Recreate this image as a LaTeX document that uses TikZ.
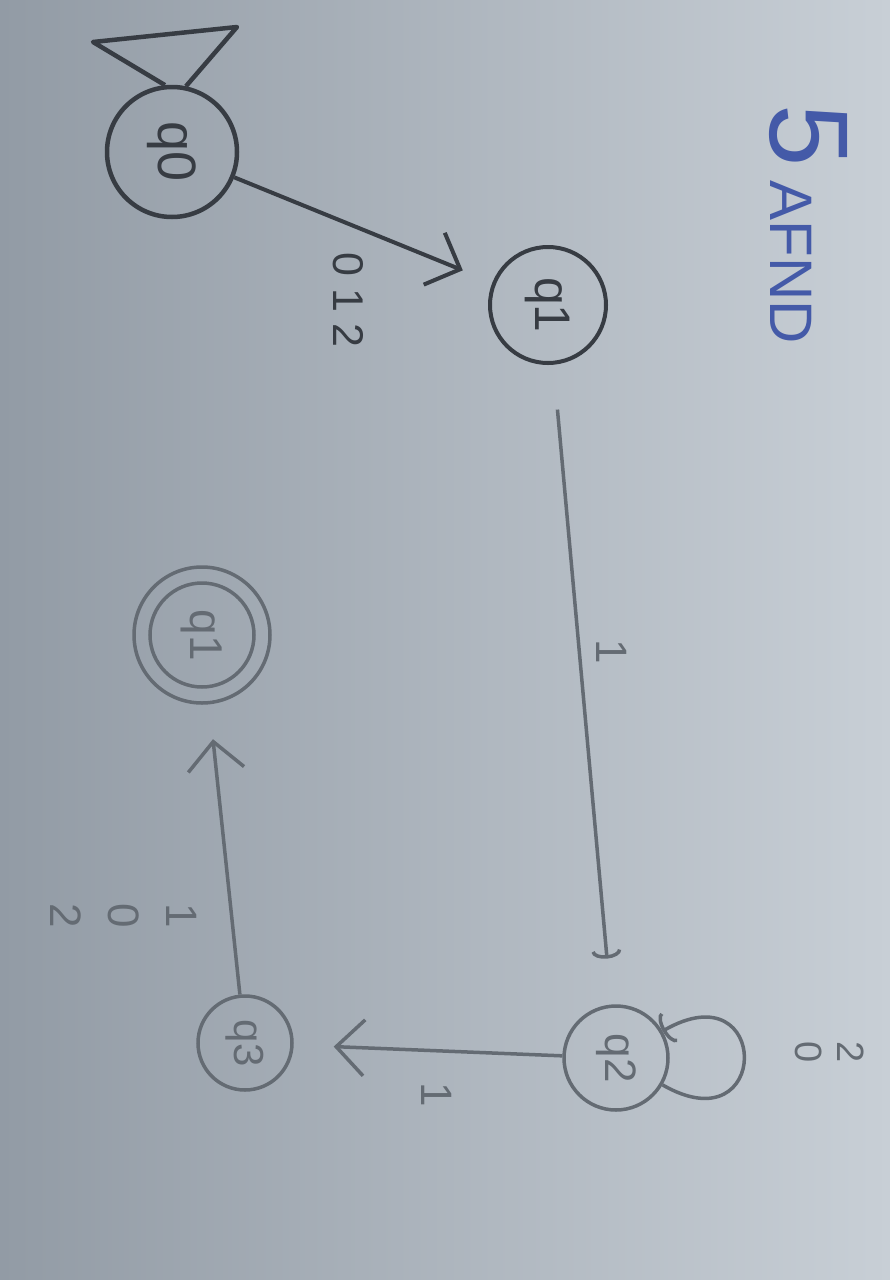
\documentclass[tikz,border=0pt]{standalone}
\usepackage{fontspec}
\setmainfont{Liberation Sans}
\usepackage{graphicx}
\usetikzlibrary{arrows.meta}
\definecolor{paperL}{RGB}{146,155,165}
\definecolor{paperR}{RGB}{200,207,214}
\definecolor{pencil}{RGB}{55,60,67}
\definecolor{pencillight}{RGB}{100,107,115}
\definecolor{inkblue}{RGB}{68,90,168}
\newcommand{\fsz}[1]{\fontsize{#1}{#1}\selectfont}

\begin{document}
\begin{tikzpicture}[x=1pt,y=-1pt,
  >={Straight Barb[length=28pt,width=56pt]},
  state/.style={circle,draw,minimum size=#1,inner sep=0pt},
  lbl/.style={rotate=-90,align=center,pencillight}]

\shade[left color=paperL,right color=paperR] (0,0) rectangle (890,1280);

% title
\node[rotate=-90,inkblue] (title) at (808,224) {\fsz{112}5\hspace{14pt}\fsz{60}AFND};

% states
\node[state=130pt,pencil,line width=4.5pt] (q0) at (172,152) {\rotatebox{-90}{\fsz{54}q0}};
\node[state=116pt,pencil,line width=4pt] (q1) at (548,305) {\rotatebox{-90}{\fsz{50}q1}};
\node[state=104pt,pencillight,line width=3.5pt] (q2) at (616,1058) {\rotatebox{-90}{\fsz{44}q2}};
\node[state=94pt,pencillight,line width=3.5pt] (q3) at (245,1043) {\rotatebox{-90}{\fsz{42}q3}};
\node[state=136pt,pencillight,line width=3.5pt] (qf) at (202,635) {\rotatebox{-90}{\fsz{46}q1}};
\draw[pencillight,line width=3.5pt] (qf.center) circle (52pt);

% start
\coordinate (s1) at (93,42);
\coordinate (s2) at (237,27);
\draw[pencil,line width=4.5pt,line join=round] (q0.96) -- (s1) -- (s2) -- (q0.78);

% transitions
\draw[->,pencil,line width=4pt,shorten >=32pt] (q0) -- (q1);
\node[lbl,pencil,font=\fsz{43}] (l01) at (348,300) {0 1 2};

\draw[-{Arc Barb[length=8pt,width=30pt]},pencillight,line width=3.5pt,
  shorten <=45pt,shorten >=46pt] (q1) -- (q2);
\node[lbl,font=\fsz{44}] (l12) at (612,652) {1};

\draw[->,pencillight,line width=3.5pt,shorten >=40pt] (q2) -- (q3);
\node[lbl,font=\fsz{44}] (l23) at (437,1095) {1};

\draw[-{Arc Barb[length=8pt,width=34pt]},pencillight,line width=3.5pt]
  (q2) to[out=-30,in=30,looseness=6] (q2);
\node[lbl,font=\fontsize{38}{42}\selectfont] (l22) at (830,1052) {2\\0};

\draw[->,pencillight,line width=3.5pt,shorten >=35pt] (q3) -- (qf);
\node[lbl,font=\fontsize{44}{58}\selectfont] (l3f) at (124,916) {1\\0\\2};

\end{tikzpicture}
\end{document}
